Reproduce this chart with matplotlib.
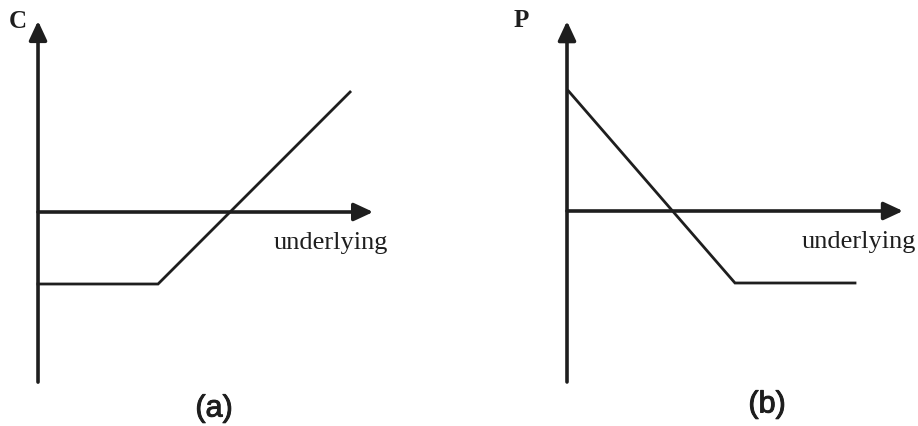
import matplotlib.pyplot as plt
import matplotlib.patheffects as pe

# payoff diagrams, values (1 unit ~ 30 px)
call_s = [0.0, 4.0, 10.4]
call_v = [-2.4, -2.4, 4.0]
put_s = [0.05, 5.6, 9.6]
put_v = [4.0, -2.4, -2.4]

panels = [
    dict(s=call_s, v=call_v, ylab="C", tag="(a)",
         xlim=(-1.267, 14.03), ylim=(-7.133, 7.1),
         yaxis=(-5.67, 6.37), xaxis_end=11.17,
         ylab_pos=(-0.67, 6.4), under_pos=(9.75, -1.0), tag_pos=(5.87, -6.55)),
    dict(s=put_s, v=put_v, ylab="P", tag="(b)",
         xlim=(-3.6, 11.7), ylim=(-7.167, 7.067),
         yaxis=(-5.7, 6.33), xaxis_end=11.2,
         ylab_pos=(-1.53, 6.4), under_pos=(9.72, -1.0), tag_pos=(6.67, -6.45)),
]

ink = "#1e1e1e"
thick = [pe.withStroke(linewidth=0.7, foreground=ink)]
fig = plt.figure(figsize=(9.18, 4.27), dpi=100)

for i, p in enumerate(panels):
    ax = fig.add_axes([i * 0.5, 0, 0.5, 1])
    ax.set_xlim(*p["xlim"])
    ax.set_ylim(*p["ylim"])
    ax.axis("off")

    arrow = dict(arrowstyle="-|>,head_length=0.58,head_width=0.27",
                 mutation_scale=20, lw=2.6, color=ink, shrinkA=0, shrinkB=0)
    # vertical axis
    ax.annotate("", xy=(0, p["yaxis"][1]), xytext=(0, p["yaxis"][0]),
                arrowprops=arrow)
    # horizontal axis
    ax.annotate("", xy=(p["xaxis_end"], 0), xytext=(0, 0),
                arrowprops=arrow)

    ax.plot(p["s"], p["v"], color=ink, lw=2.0, solid_joinstyle="miter")

    ax.text(*p["ylab_pos"], p["ylab"], family="Liberation Serif",
            fontsize=18, fontweight="bold", ha="center", va="center", color=ink)
    ax.text(*p["under_pos"], "underlying", family="Liberation Serif",
            fontsize=19, ha="center", va="center", color=ink)
    ax.text(*p["tag_pos"], p["tag"], family="Liberation Sans",
            fontsize=22, ha="center", va="center", color=ink,
            path_effects=thick)

plt.savefig("out.png", dpi=100)
plt.close()
